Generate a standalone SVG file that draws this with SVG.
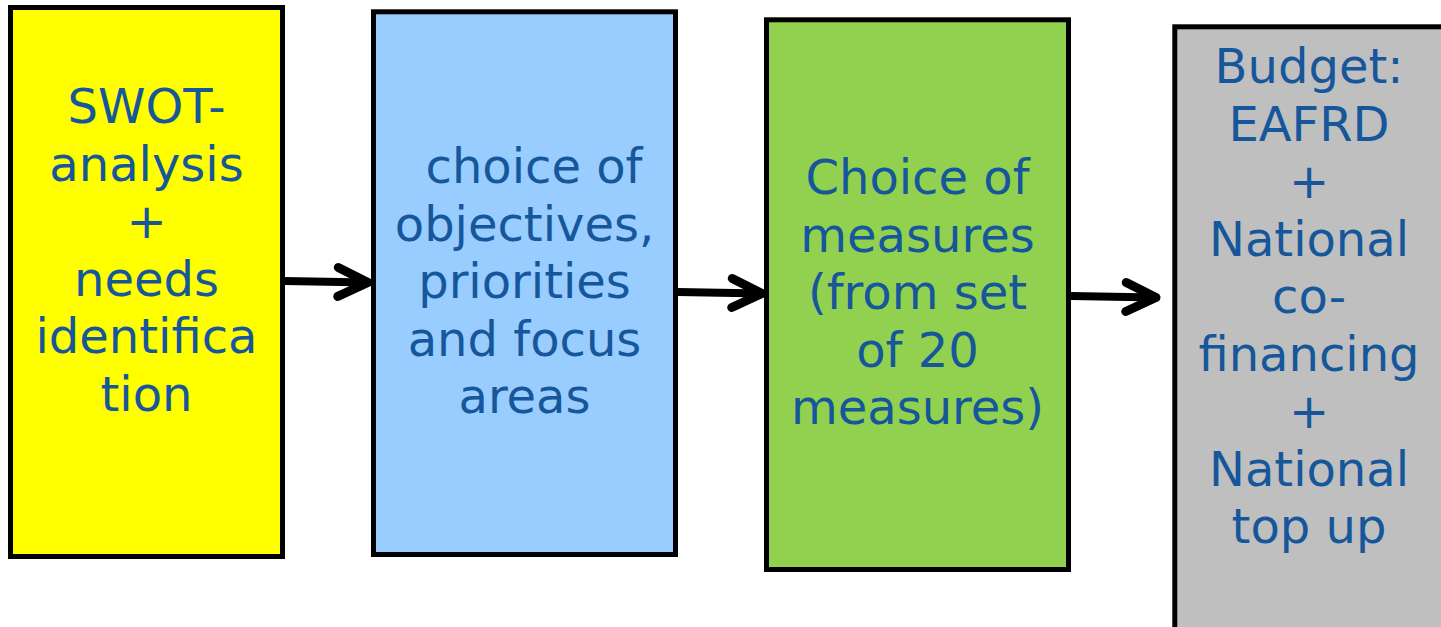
<svg xmlns="http://www.w3.org/2000/svg" width="1441" height="627" viewBox="0 0 1441 627">
  <defs>
    <style>
      .box { stroke: #000000; stroke-width: 5; }
      .lbl { font-family: "DejaVu Sans", Verdana, sans-serif; font-size: 48px; fill: #15579A; text-anchor: middle; }
      .conn { stroke: #000000; stroke-width: 8; fill: none; }
    </style>
    <marker id="chev" markerUnits="userSpaceOnUse" viewBox="-40 -20 50 40" refX="0" refY="0" markerWidth="50" markerHeight="40" orient="auto" overflow="visible">
      <path d="M-30,-14.5 L0,0 L-30,14.5" fill="none" stroke="#000000" stroke-width="9" stroke-linecap="round" stroke-linejoin="round"/>
    </marker>
  </defs>
  <rect width="1441" height="627" fill="#FFFFFF"/>

  <g id="node-swot">
    <rect class="box" x="10.5" y="7.5" width="272" height="549" fill="#FFFF00"/>
    <text class="lbl" x="146.5" y="123">SWOT-</text>
    <text class="lbl" x="146.5" y="180.5">analysis</text>
    <text class="lbl" x="146.5" y="238">+</text>
    <text class="lbl" x="146.5" y="295.5">needs</text>
    <text class="lbl" x="146.5" y="353">identifica</text>
    <text class="lbl" x="146.5" y="410.5">tion</text>
  </g>

  <g id="node-objectives">
    <rect class="box" x="373.5" y="11.8" width="302" height="542.7" fill="#99CCFF"/>
    <text class="lbl" x="534" y="183">choice of</text>
    <text class="lbl" x="524.5" y="240.5">objectives,</text>
    <text class="lbl" x="524.5" y="298">priorities</text>
    <text class="lbl" x="524.5" y="355.5">and focus</text>
    <text class="lbl" x="524.5" y="413">areas</text>
  </g>

  <g id="node-measures">
    <rect class="box" x="766.5" y="19.8" width="302" height="549.7" fill="#92D050"/>
    <text class="lbl" x="917.5" y="194">Choice of</text>
    <text class="lbl" x="917.5" y="251.5">measures</text>
    <text class="lbl" x="917.5" y="309">(from set</text>
    <text class="lbl" x="917.5" y="366.5">of 20</text>
    <text class="lbl" x="917.5" y="424">measures)</text>
  </g>

  <g id="node-budget">
    <rect class="box" x="1174.8" y="26.8" width="300" height="620" fill="#BFBFBF"/>
    <text class="lbl" x="1309" y="83">Budget:</text>
    <text class="lbl" x="1309" y="140.5">EAFRD</text>
    <text class="lbl" x="1309" y="198">+</text>
    <text class="lbl" x="1309" y="255.5">National</text>
    <text class="lbl" x="1309" y="313">co-</text>
    <text class="lbl" x="1309" y="370.5">financing</text>
    <text class="lbl" x="1309" y="428">+</text>
    <text class="lbl" x="1309" y="485.5">National</text>
    <text class="lbl" x="1309" y="543">top up</text>
  </g>

  <g id="connectors">
    <line class="conn" x1="285" y1="281" x2="368" y2="282.5" marker-end="url(#chev)"/>
    <line class="conn" x1="678" y1="292" x2="762" y2="293.5" marker-end="url(#chev)"/>
    <line class="conn" x1="1071" y1="296" x2="1156" y2="297.5" marker-end="url(#chev)"/>
  </g>
</svg>
